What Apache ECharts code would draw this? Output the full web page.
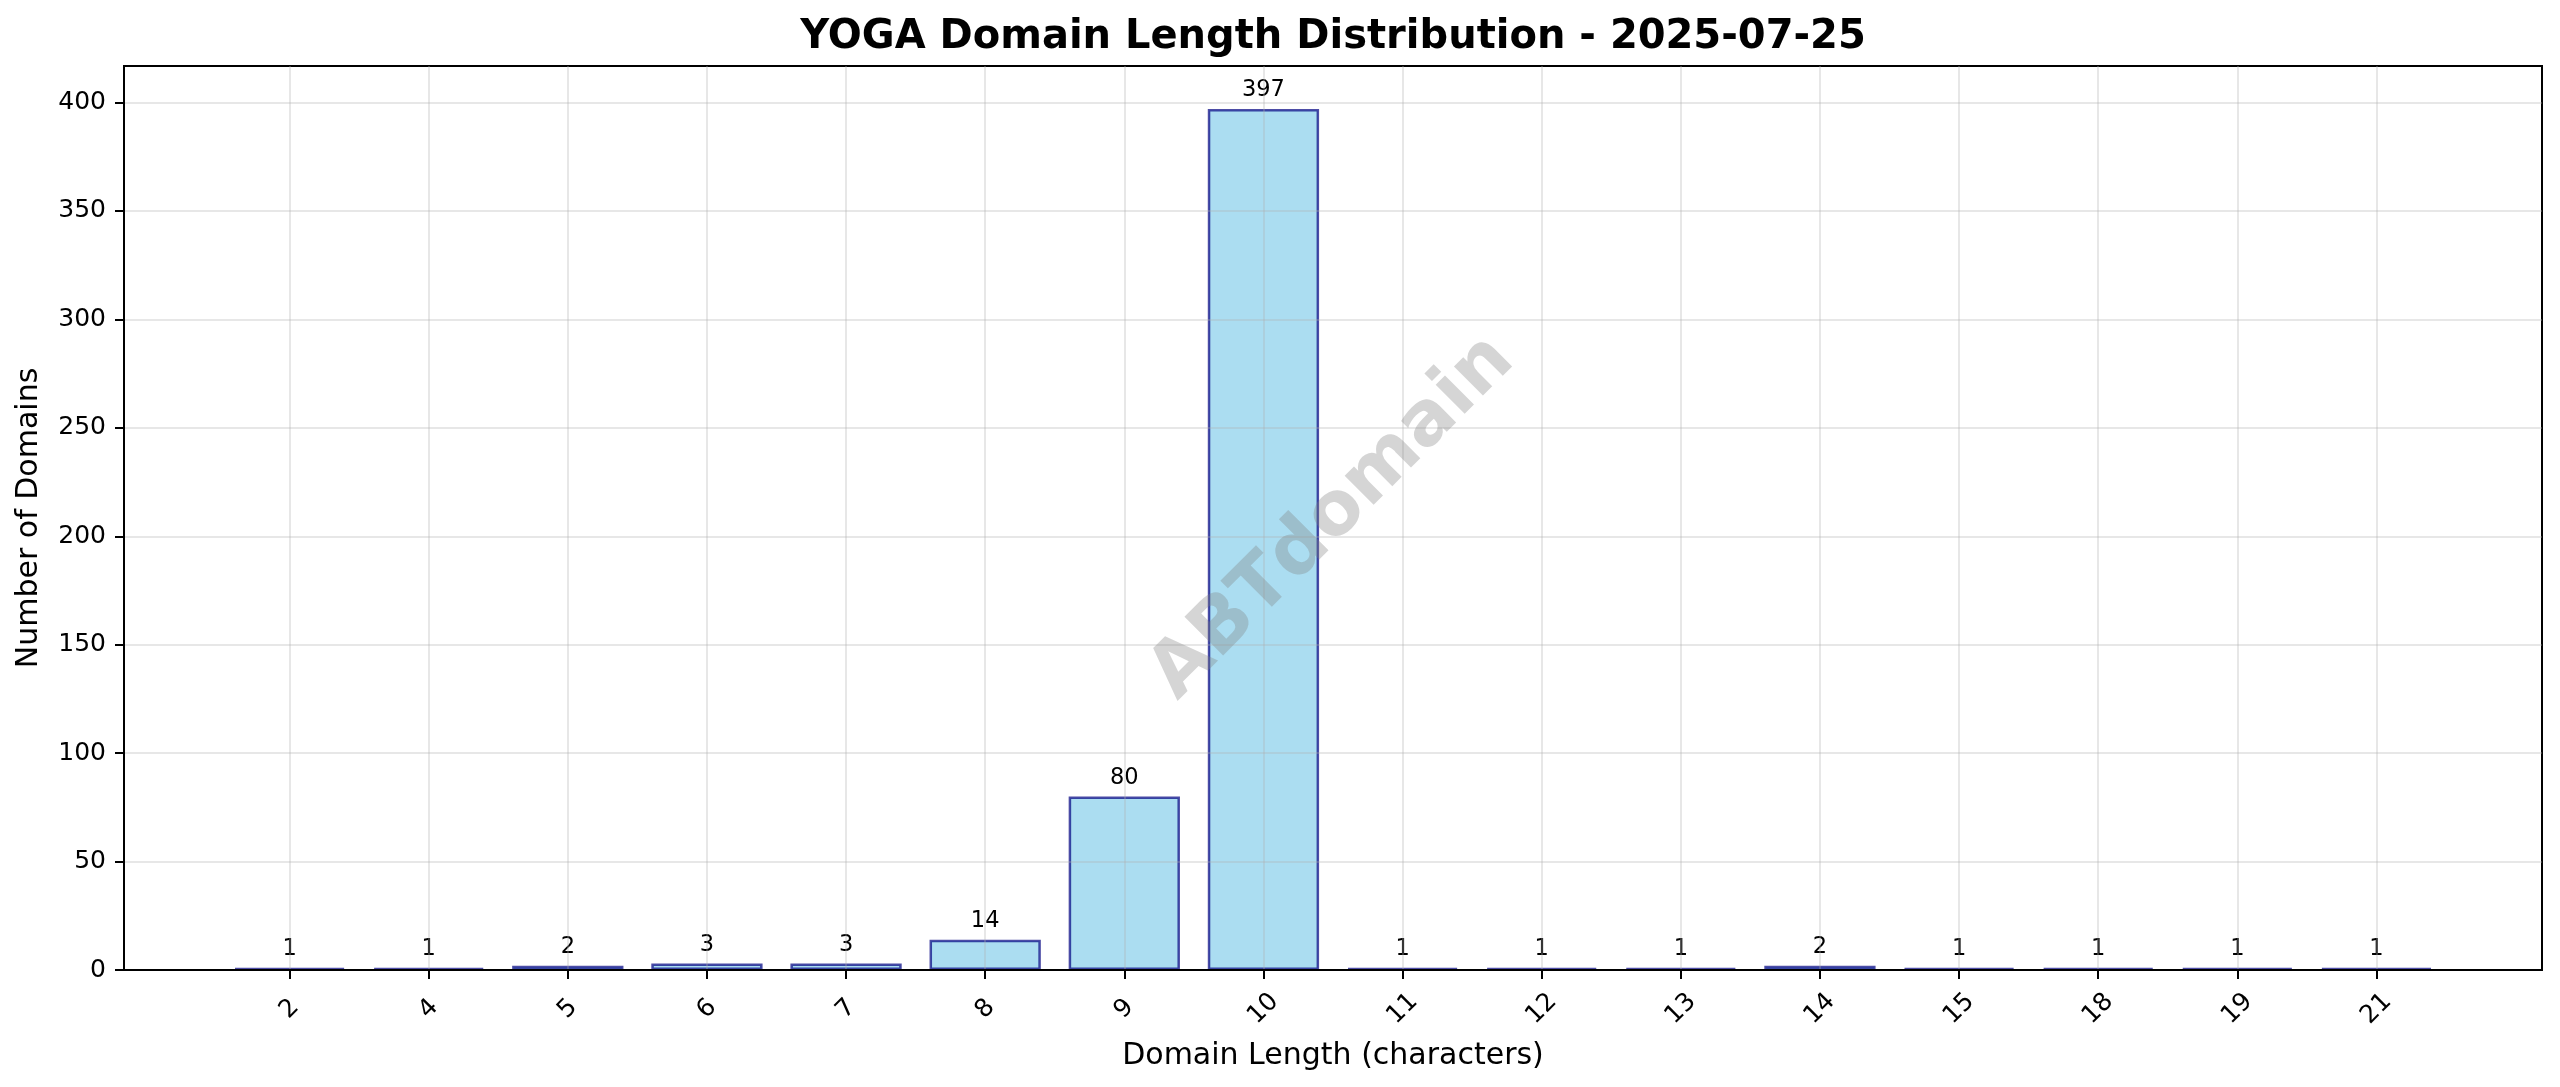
<!DOCTYPE html>
<html>
<head>
<meta charset="utf-8">
<script src="https://cdn.jsdelivr.net/npm/echarts@6/dist/echarts.min.js"></script>
<style>
html,body{margin:0;padding:0;background:#fff;}
#chart{width:2560px;height:1087px;}
</style>
</head>
<body>
<div id="chart"></div>
<script>
const categories = ['2','4','5','6','7','8','9','10','11','12','13','14','15','18','19','21'];
const counts = [1,1,2,3,3,14,80,397,1,1,1,2,1,1,1,1];
const yTicks = [0,50,100,150,200,250,300,350,400];
const titleText = 'YOGA Domain Length Distribution - 2025-07-25';
const xName = 'Domain Length (characters)';
const yName = 'Number of Domains';
const watermark = 'ABTdomain';

const W = 2560, H = 1087;
const G = {left:124, right:18, top:66, bottom:117};
const FONT = 'DejaVu Sans';

const idx = categories.map((c,i)=>i);
const barData = counts.map((v,i)=>[i,v]);
const n = categories.length;
const xMin = -0.4 - 0.05*(n-1+0.8);
const xMax = (n-1)+0.4 + 0.05*(n-1+0.8);
const yMax = Math.max(...counts)*1.05;

const cx = G.left + (W-G.left-G.right)/2;
const cy = G.top + (H-G.top-G.bottom)/2;

const chart = echarts.init(document.getElementById('chart'), null, {width:W, height:H});
chart.setOption({
  animation:false,
  backgroundColor:'#ffffff',
  textStyle:{fontFamily:FONT},
  grid:{left:G.left, right:G.right, top:G.top, bottom:G.bottom, show:true,
        borderColor:'#000', borderWidth:2, backgroundColor:'transparent', outerBoundsMode:'none'},
  xAxis:{
    type:'value', min:xMin, max:xMax, z:3,
    name:xName, nameLocation:'middle', nameGap:71,
    nameTextStyle:{fontSize:30, color:'#000', fontFamily:FONT},
    axisLine:{show:true, onZero:false, lineStyle:{color:'#000', width:2}},
    axisTick:{show:true, length:9, lineStyle:{color:'#000', width:2}, customValues:idx},
    axisLabel:{show:true, customValues:idx, rotate:45, align:'center', verticalAlign:'middle',
      margin:39, fontSize:25, color:'#000', fontFamily:FONT,
      formatter:(v)=>categories[Math.round(v)]},
    splitLine:{show:true, lineStyle:{color:'rgba(176,176,176,0.3)', width:2}}
  },
  yAxis:{
    type:'value', min:0, max:yMax, interval:50, z:3,
    name:yName, nameLocation:'middle', nameGap:80,
    nameTextStyle:{fontSize:30, color:'#000', fontFamily:FONT},
    axisLine:{show:true, onZero:false, lineStyle:{color:'#000', width:2}},
    axisTick:{show:true, length:9, lineStyle:{color:'#000', width:2}, customValues:yTicks},
    axisLabel:{show:true, customValues:yTicks, margin:18, fontSize:25, color:'#000', fontFamily:FONT},
    splitLine:{show:true, lineStyle:{color:'rgba(176,176,176,0.3)', width:2}}
  },
  graphic:[
    {type:'text', x:cx, y:18, z:20, silent:true,
     style:{text:titleText, fill:'#000', font:'bold 40px "DejaVu Sans"', textAlign:'center', textVerticalAlign:'top'}},
    {type:'text', x:cx, y:cy, rotation:Math.PI/4, z:20, silent:true,
     style:{text:watermark, fill:'rgba(128,128,128,0.33)', font:'bold 75px "DejaVu Sans"', textAlign:'center', textVerticalAlign:'middle'}}
  ],
  series:[{
    type:'bar', data:barData, barWidth:'80%', z:2,
    itemStyle:{color:'rgba(135,206,235,0.7)', borderColor:'rgba(0,0,128,0.7)', borderWidth:2.5},
    label:{show:true, position:'top', distance:7, fontSize:22.5, color:'#000', fontFamily:FONT,
      formatter:(p)=>String(p.value[1])}
  }]
});
</script>
</body>
</html>
